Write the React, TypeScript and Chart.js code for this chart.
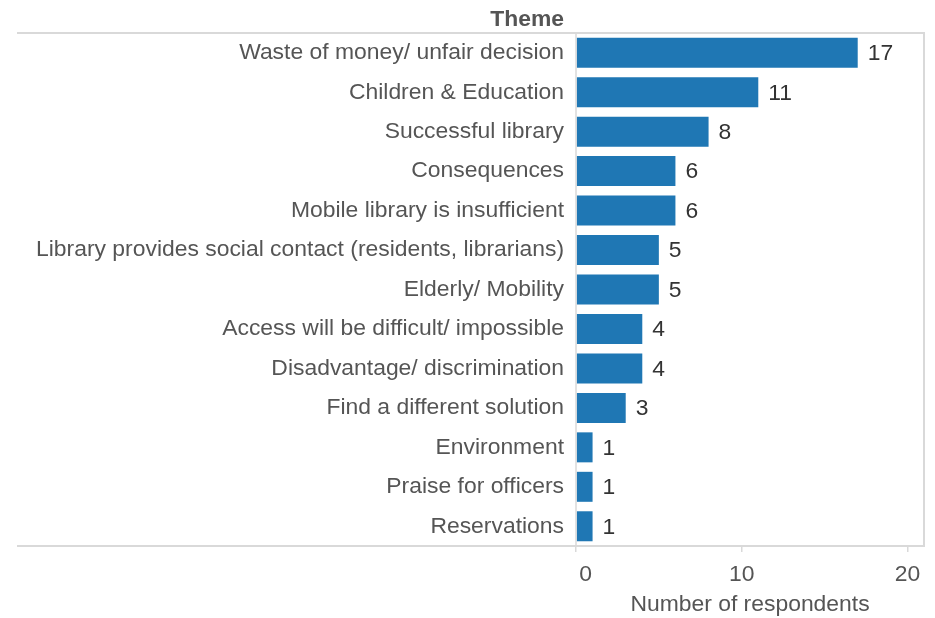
import React, { useEffect, useRef } from "react";
import { Chart, registerables } from "chart.js";

Chart.register(...registerables);

const categories: string[] = [
  "Waste of money/ unfair decision",
  "Children & Education",
  "Successful library",
  "Consequences",
  "Mobile library is insufficient",
  "Library provides social contact (residents, librarians)",
  "Elderly/ Mobility",
  "Access will be difficult/ impossible",
  "Disadvantage/ discrimination",
  "Find a different solution",
  "Environment",
  "Praise for officers",
  "Reservations",
];
const respondents: number[] = [17, 11, 8, 6, 6, 5, 5, 4, 4, 3, 1, 1, 1];
const xTicks: number[] = [0, 10, 20];
const axisTitle = "Number of respondents";
const headerText = "Theme";

const FONT = "'Liberation Sans', Arial, Helvetica, sans-serif";
const FS = 22.9;
const GRID = "#d9d9d9";

export default function App() {
  const ref = useRef<HTMLCanvasElement | null>(null);
  useEffect(() => {
    if (!ref.current) return;
    const framePlugin = {
      id: "frame",
      afterDraw(chart: any) {
        const { ctx, chartArea } = chart;
        const { left, right, top, bottom } = chartArea;
        ctx.save();
        ctx.strokeStyle = GRID;
        ctx.lineWidth = 2;
        ctx.beginPath();
        ctx.moveTo(17, top);
        ctx.lineTo(right, top);
        ctx.lineTo(right, bottom);
        ctx.lineTo(17, bottom);
        ctx.stroke();
        ctx.lineWidth = 1.5;
        ctx.beginPath();
        ctx.moveTo(left, top);
        ctx.lineTo(left, bottom);
        ctx.stroke();
        // header
        ctx.fillStyle = "#555555";
        ctx.font = `bold ${FS}px ${FONT}`;
        ctx.textAlign = "right";
        ctx.textBaseline = "middle";
        ctx.fillText(headerText, left - 12, top - 13);
        // value labels
        const meta = chart.getDatasetMeta(0);
        ctx.font = `${FS}px ${FONT}`;
        ctx.fillStyle = "#333333";
        ctx.textAlign = "left";
        meta.data.forEach((bar: any, i: number) => {
          ctx.fillText(String(respondents[i]), bar.x + 10, bar.y + 1);
        });
        ctx.restore();
      },
    };
    const chart = new Chart(ref.current, {
      type: "bar",
      data: {
        labels: categories,
        datasets: [
          {
            data: respondents,
            backgroundColor: "#1f77b4",
            borderWidth: 0,
            barPercentage: 0.76,
            categoryPercentage: 1,
          },
        ],
      },
      options: {
        indexAxis: "y",
        responsive: false,
        animation: false,
        layout: { padding: { top: 33, right: 11, left: 0, bottom: 0 } },
        plugins: { legend: { display: false }, tooltip: { enabled: false } },
        scales: {
          x: {
            min: 0,
            max: 21,
            afterBuildTicks: (scale: any) => {
              scale.ticks = xTicks.map((v) => ({ value: v }));
            },
            afterFit: (scale: any) => {
              scale.height = 72;
            },
            grid: {
              drawOnChartArea: false,
              color: GRID,
              lineWidth: 1.5,
              tickLength: 6,
            },
            border: { display: false },
            ticks: {
              color: "#555555",
              font: { family: FONT, size: FS },
              padding: 9,
              maxRotation: 0,
              callback: (v: any) => (Number(v) === 0 ? "   0" : String(v)),
            },
            title: {
              display: true,
              text: axisTitle,
              color: "#555555",
              font: { family: FONT, size: FS },
              padding: { top: 0, bottom: 0 },
            },
          },
          y: {
            afterFit: (scale: any) => {
              scale.width = 576;
            },
            grid: { display: false, drawTicks: false },
            border: { display: false },
            ticks: {
              color: "#555555",
              font: { family: FONT, size: FS },
              padding: 12,
              autoSkip: false,
            },
          },
        },
      },
      plugins: [framePlugin],
    });
    return () => chart.destroy();
  }, []);
  return (
    <div style={{ position: "absolute", left: 0, top: 0, width: 935, height: 618 }}>
      <canvas ref={ref} width={935} height={618} style={{ display: "block" }} />
    </div>
  );
}
